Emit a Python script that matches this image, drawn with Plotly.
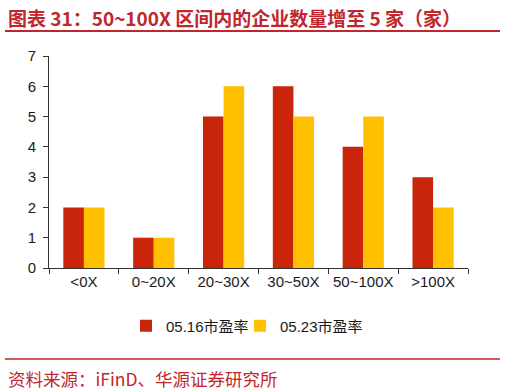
import plotly.graph_objects as go

categories = ["<0X", "0~20X", "20~30X", "30~50X", "50~100X", ">100X"]
pe_0516 = [2, 1, 5, 6, 4, 3]
pe_0523 = [2, 1, 6, 5, 5, 2]
series_names = ["05.16市盈率", "05.23市盈率"]
title_text = "图表 31：50~100X 区间内的企业数量增至 5 家（家）"
source_text = "资料来源：iFinD、华源证券研究所"

RED = "#C8250A"
YELLOW = "#FFC000"
TITLE_RED = "#C0272D"

W, H = 506, 392
L, R, T, B = 49, 38, 56, 124
plot_w = W - L - R
plot_h = H - T - B


def px_x(px):
    return (px - L) / plot_w


def px_y(py):
    return (H - B - py) / plot_h


fig = go.Figure()
fig.add_trace(go.Bar(x=categories, y=pe_0516, name=series_names[0], legend="legend",
                     marker=dict(color=RED, line=dict(width=0))))
fig.add_trace(go.Bar(x=categories, y=pe_0523, name=series_names[1], legend="legend2",
                     marker=dict(color=YELLOW, line=dict(width=0))))

axis_font = dict(family="Liberation Sans, Arial, sans-serif", size=15, color="#1a1a1a")
legend_font = dict(family="Liberation Sans, Noto Sans CJK SC, sans-serif", size=15, color="#1a1a1a")

fig.update_layout(
    width=W, height=H,
    margin=dict(l=L, r=R, t=T, b=B, pad=0),
    paper_bgcolor="white", plot_bgcolor="white",
    barmode="group", bargap=0.41, bargroupgap=0,
    showlegend=True,
    legend=dict(orientation="h", xref="container", yref="container",
                x=(146 - 20) / W, xanchor="left", y=1 - 326 / H, yanchor="middle",
                font=legend_font, itemwidth=30, bgcolor="rgba(0,0,0,0)"),
    legend2=dict(orientation="h", xref="container", yref="container",
                 x=(260 - 20) / W, xanchor="left", y=1 - 326 / H, yanchor="middle",
                 font=legend_font, itemwidth=30, bgcolor="rgba(0,0,0,0)"),
    xaxis=dict(type="category", showline=True, linecolor="#333333", linewidth=1,
               ticks="outside", ticklen=5, tickcolor="#333333", tickson="boundaries",
               showgrid=False, tickfont=axis_font, fixedrange=True),
    yaxis=dict(range=[0, 7], dtick=1, showline=True, linecolor="#333333", linewidth=1,
               ticks="outside", ticklen=5, tickcolor="#333333", showgrid=False,
               zeroline=False, tickfont=axis_font, ticklabelstandoff=4, fixedrange=True),
    font=dict(family="Noto Sans CJK SC, sans-serif"),
)

fig.add_annotation(text=title_text, xref="paper", yref="paper",
                   x=px_x(6), y=px_y(17), xanchor="left", yanchor="middle",
                   showarrow=False,
                   font=dict(family="Noto Sans CJK SC", size=19, color=TITLE_RED, weight="bold"))
fig.add_annotation(text=source_text, xref="paper", yref="paper",
                   x=px_x(6), y=px_y(378), xanchor="left", yanchor="middle",
                   showarrow=False,
                   font=dict(family="Noto Sans CJK SC", size=17.5, color=TITLE_RED))

fig.add_shape(type="line", xref="paper", yref="paper",
              x0=px_x(5), x1=px_x(500), y0=px_y(31), y1=px_y(31),
              line=dict(color=TITLE_RED, width=2))
fig.add_shape(type="line", xref="paper", yref="paper",
              x0=px_x(5), x1=px_x(500), y0=px_y(359), y1=px_y(359),
              line=dict(color=TITLE_RED, width=1.5))

fig.write_html("out.html", config={"displayModeBar": False},
               post_script="document.body.style.margin='0';document.body.style.overflow='hidden';")
